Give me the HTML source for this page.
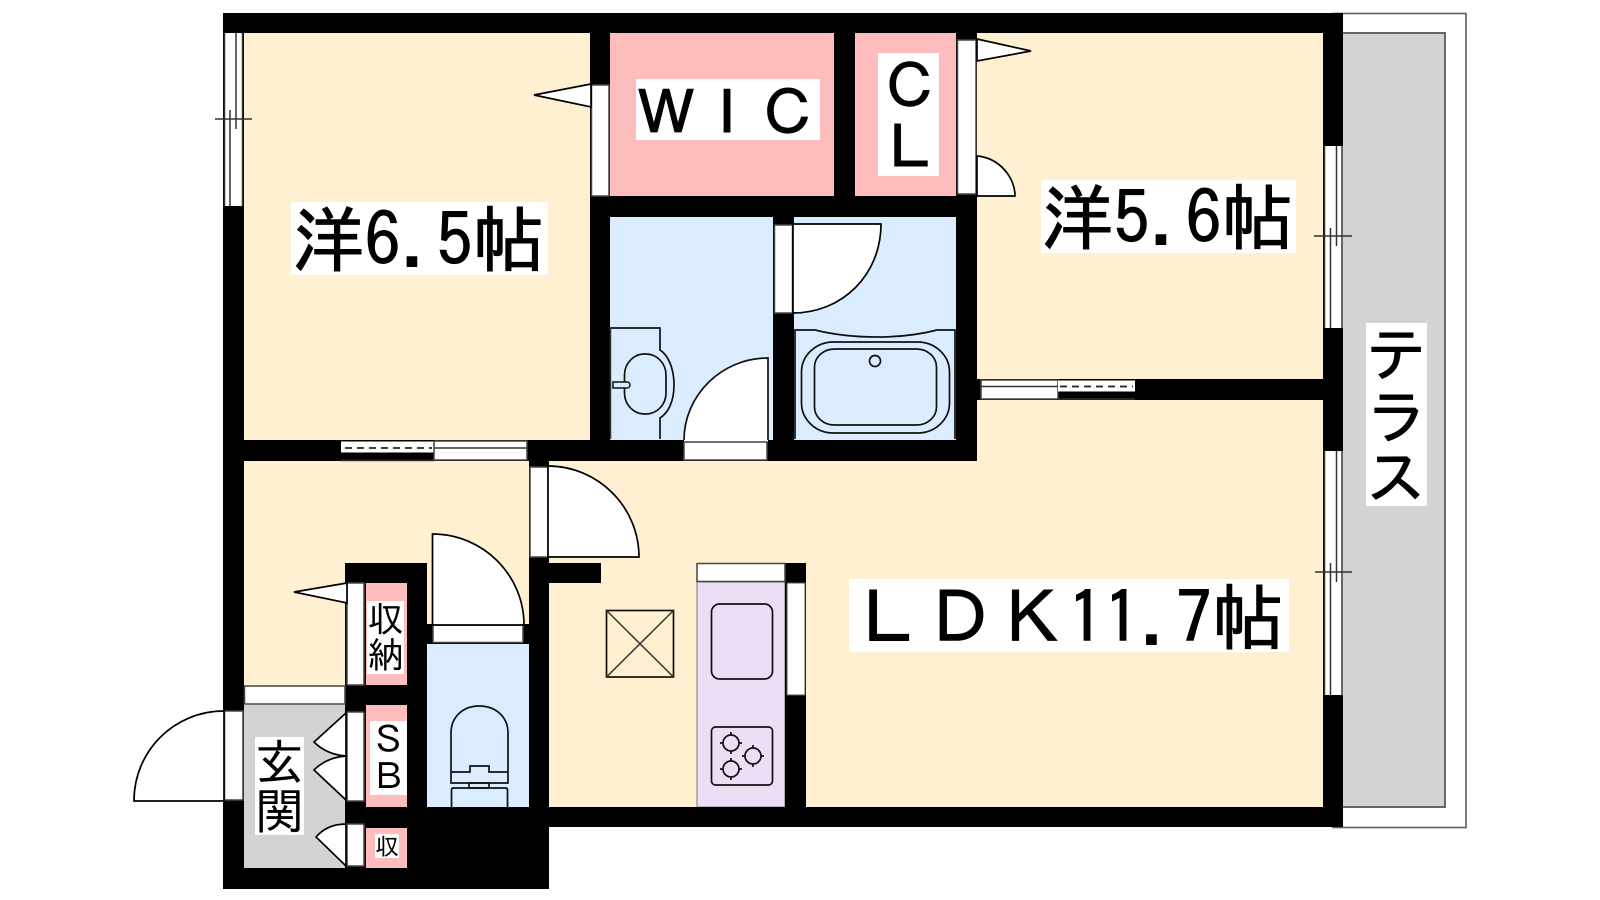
<!DOCTYPE html>
<html><head><meta charset="utf-8"><style>
html,body{margin:0;padding:0;background:#fff}
svg{display:block}
text{font-family:"IPAGothic","Liberation Sans","Noto Sans CJK JP",sans-serif;fill:#000;text-anchor:middle}
.b{stroke:#000;stroke-width:1}
.l{fill:none;stroke:#333;stroke-width:1.5}
.w{fill:#fff;stroke:#444;stroke-width:1.5}
.d{fill:#fff;stroke:#000;stroke-width:1.7}
.k{fill:none;stroke:#111;stroke-width:1.7}
</style></head><body>
<svg width="1600" height="900" viewBox="0 0 1600 900" xmlns="http://www.w3.org/2000/svg">
<rect width="1600" height="900" fill="#fff"/>
<!-- terrace -->
<rect x="1333" y="13.5" width="133" height="814" fill="#fff" stroke="#666" stroke-width="1.7"/>
<rect x="1340" y="33" width="105" height="774" fill="#d3d3d3" stroke="#666" stroke-width="2"/>
<!-- floors -->
<rect x="244" y="33" width="1080" height="775" fill="#fef0d0"/>
<rect x="610" y="33" width="224" height="163" fill="#ffbcbc"/>
<rect x="855" y="33" width="101" height="163" fill="#ffbcbc"/>
<rect x="610" y="217" width="163" height="223" fill="#dbecff"/>
<rect x="794" y="217" width="162" height="223" fill="#dbecff"/>
<rect x="427" y="644" width="102" height="164" fill="#dbecff"/>
<rect x="244" y="705" width="102" height="163" fill="#d3d3d3"/>
<rect x="697" y="582" width="88" height="225" fill="#ecdef5" stroke="#777" stroke-width="1"/>
<!-- walls -->
<g fill="#000">
<rect x="223" y="13" width="1120" height="20"/>
<rect x="223" y="13" width="21" height="876"/>
<rect x="223" y="868" width="326" height="21"/>
<rect x="223" y="440" width="754" height="21"/>
<rect x="590" y="13" width="20" height="448"/>
<rect x="834" y="13" width="21" height="204"/>
<rect x="590" y="196" width="387" height="21"/>
<rect x="956" y="33" width="21" height="428"/>
<rect x="773" y="217" width="21" height="244"/>
<rect x="529" y="461" width="20" height="428"/>
<rect x="529" y="563" width="72" height="20"/>
<rect x="345" y="563" width="82" height="326"/>
<rect x="427" y="624" width="102" height="20"/>
<rect x="427" y="807" width="122" height="82"/>
<rect x="549" y="807" width="794" height="20"/>
<rect x="1323" y="13" width="20" height="814"/>
<rect x="977" y="379" width="346" height="21"/>
<rect x="785" y="563" width="21" height="244"/>
</g>
<!-- closet pink -->
<rect x="366" y="583" width="41" height="102" fill="#ffbcbc"/>
<rect x="366" y="705" width="41" height="102" fill="#ffbcbc"/>
<rect x="366" y="828" width="41" height="40" fill="#ffbcbc"/>
<!-- left window -->
<rect x="224" y="33" width="19" height="173" fill="#fff"/>
<path class="l" d="M224.5 33V206M242.5 33V206M236 33V129M230 110V206"/>
<path class="l" d="M215 119H252" stroke-width="1.7"/>
<!-- right windows -->
<rect x="1324" y="146" width="19" height="182" fill="#fff"/>
<path class="l" d="M1324.5 146V328M1342 146V328M1336.5 146V246M1330.5 228V328M1314 236H1352"/>
<rect x="1324" y="451" width="19" height="244" fill="#fff"/>
<path class="l" d="M1324.5 451V695M1342 451V695M1336.5 451V582M1330.5 563V695M1315 572H1352"/>
<!-- kitchen window & top -->
<rect x="787" y="583" width="18" height="112" fill="#fff" stroke="#555"/>
<rect x="697" y="563.5" width="88" height="18" class="w"/>
<!-- sliding doors lower wall of 6.5 -->
<rect x="341" y="441.5" width="93" height="11" fill="#fff"/>
<path d="M345 448H432" stroke="#222" stroke-width="1.7" stroke-dasharray="7 5" fill="none"/>
<path class="l" d="M341 460.5H434"/>
<rect x="434" y="441" width="93" height="19" class="w"/>
<path class="l" d="M434 448H527"/>
<!-- sliding doors partition -->
<rect x="981" y="380" width="77" height="19" class="w"/>
<path class="l" d="M981 386.5H1058"/>
<rect x="1058" y="380.5" width="77" height="11" fill="#fff"/>
<path d="M1060 386.5H1133" stroke="#222" stroke-width="1.7" stroke-dasharray="7 5" fill="none"/>
<path class="l" d="M1058 399H1135"/>
<!-- WIC door -->
<rect x="591.5" y="85" width="17.5" height="111" class="w"/>
<path class="d" d="M591 84L534 95L591 107Z"/>
<!-- CL door -->
<rect x="957.5" y="40" width="18.5" height="154" class="w"/>
<path class="d" d="M977 39L1031 51L977 61Z"/>
<path class="d" d="M977 156C1000 158 1015 178 1015 196H977Z"/>
<!-- bath door -->
<rect x="774.5" y="225" width="18" height="88" class="w"/>
<path class="d" d="M793 224H881C881 275 842 313 793 313Z"/>
<!-- wash door -->
<path d="M768 358C721 358 684 396 684 442H768Z" fill="#fff"/>
<path class="k" d="M684 440C684 396 721 358 768 358V440"/>
<rect x="684" y="442" width="83" height="18" class="w"/>
<!-- washstand -->
<path class="k" d="M610 328H660V350C668 355 674 368 674 385C674 402 668 413 660 418V439"/>
<path class="l" d="M610.5 328V439"/>
<rect x="624.5" y="354" width="41.5" height="60" rx="20" ry="21" class="k"/>
<path d="M613 382H627C631 382 631 388 627 388H613Z" fill="#dbecff" stroke="#111" stroke-width="1.5"/>
<!-- tub -->
<path class="k" d="M795 439V330H815C835 335 855 337 877 337C900 337 918 335 937 330H955V439" stroke="#333"/>
<rect x="801.5" y="342" width="148" height="91" rx="32" ry="30" class="k"/>
<rect x="814.5" y="349" width="122" height="76" rx="20" ry="18" class="k"/>
<circle cx="875" cy="361" r="5.5" class="k"/>
<!-- LDK door -->
<rect x="530" y="467" width="18" height="90" class="w"/>
<path class="d" d="M548 466C598 466 639 507 639 557H548Z"/>
<!-- toilet door -->
<rect x="433" y="625" width="90" height="17.5" class="w"/>
<path class="d" d="M432.5 534C483 534 524 575 524 625H432.5Z"/>
<!-- toilet -->
<path class="k" d="M451 783V733C451 717 463 706 479 706C496 706 508 717 508 733V783Z"/>
<path class="k" d="M451 772H470V766H489V772H508"/>
<rect x="469" y="783" width="20" height="5" class="k"/>
<path class="k" d="M451.5 807V790Q451.5 788 453.5 788H505.5Q507.5 788 507.5 790V807"/>
<!-- storage doors -->
<rect x="347" y="583" width="17" height="102" class="w"/>
<path class="d" d="M347 583L294 592L347 603Z"/>
<rect x="244.5" y="686" width="100.5" height="18" class="w"/>
<rect x="347" y="712" width="17" height="89" class="w"/>
<path class="d" d="M346 713L314 742C322 750 332 755 346 756Z"/>
<path class="d" d="M346 756C332 757 322 762 314 770L346 800Z"/>
<rect x="347" y="824" width="17" height="42" class="w"/>
<path class="d" d="M346 824C332 824 323 829 316 837L346 866Z"/>
<!-- entry door -->
<rect x="224.5" y="711" width="18.5" height="89" class="w"/>
<path class="d" d="M224 711C174 711 134 751 134 801H224Z"/>
<!-- kitchen fixtures -->
<rect x="711.5" y="604" width="61" height="75" rx="8" class="k"/>
<rect x="711.5" y="727" width="61" height="58" rx="4" class="k"/>
<g class="k">
<path d="M731 732V754M720 743H742M753 745V767M742 756H764M731 758V780M720 769H742"/>
</g>
<g fill="#ecdef5" stroke="#111" stroke-width="1.7">
<circle cx="731" cy="743" r="8"/><circle cx="753" cy="756" r="8"/><circle cx="731" cy="769" r="8"/>
</g>
<!-- PS box -->
<rect x="606.5" y="610.5" width="67" height="66.5" class="k"/>
<path class="l" d="M606.5 610.5L673.5 677M673.5 610.5L606.5 677"/>
<!-- label boxes -->
<g fill="#fff">
<rect x="291" y="202" width="257" height="73"/>
<rect x="1041" y="180" width="255" height="73"/>
<rect x="849" y="579" width="440" height="73"/>
<rect x="636" y="79" width="184" height="61"/>
<rect x="878" y="53" width="61" height="123"/>
<rect x="1366" y="323" width="61" height="183"/>
<rect x="367" y="601" width="37" height="73"/>
<rect x="370" y="721" width="37" height="74"/>
<rect x="375" y="834" width="24" height="24"/>
<rect x="255" y="737" width="49" height="98"/>
</g>
<!-- labels -->
<text class="b" x="418.5" y="266" font-size="72">洋6.5帖</text>
<text class="b" x="1167.5" y="244" font-size="72">洋5.6帖</text>
<text class="b" x="1068" y="644" font-size="72">ＬＤＫ11.7帖</text>
<text class="b" x="727" y="135" font-size="61">ＷＩＣ</text>
<text class="b" x="910" y="108" font-size="60">Ｃ</text>
<text class="b" x="910" y="169" font-size="60">Ｌ</text>
<text class="b" x="1396.5" y="376" font-size="60">テ</text>
<text class="b" x="1396.5" y="438" font-size="60">ラ</text>
<text class="b" x="1396" y="499" font-size="60">ス</text>
<text x="385.5" y="632" font-size="36">収</text>
<text x="385.5" y="668" font-size="36">納</text>
<text x="388.5" y="753" font-size="37">Ｓ</text>
<text x="388.5" y="790" font-size="37">Ｂ</text>
<text x="387" y="855" font-size="24">収</text>
<text x="279.5" y="780" font-size="49">玄</text>
<text x="279.5" y="829" font-size="49">関</text>
</svg>
</body></html>
